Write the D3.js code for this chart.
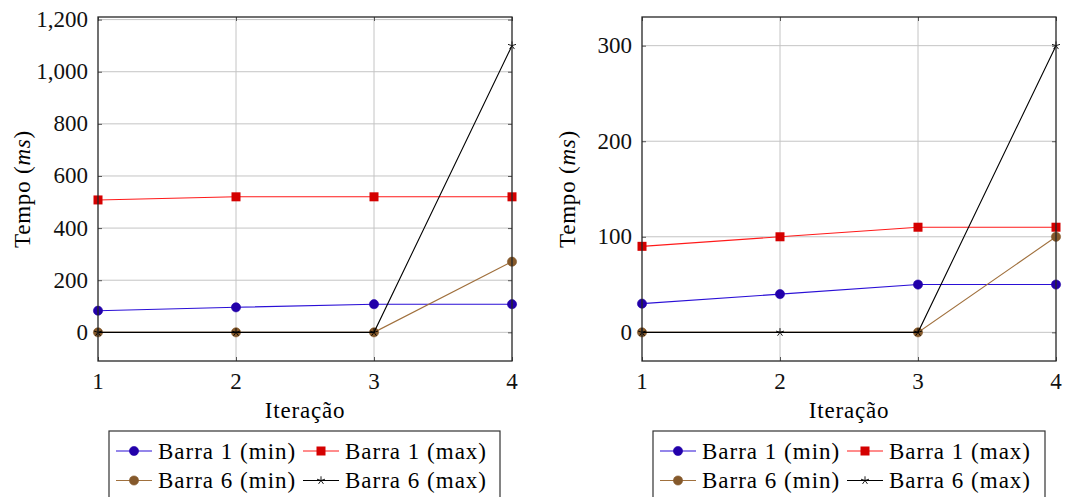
<!DOCTYPE html>
<html>
<head>
    <script src="https://d3js.org/d3.v7.min.js"></script>
    <style>
        body { margin: 0; background: white; }
        svg text { font-family: "Liberation Serif", serif !important; }
        .grid line { stroke: #c4c4c4; stroke-width: 1px; }
        .frame { fill: none; stroke: #262626; stroke-width: 1.3px; }
    </style>
</head>
<body>
    <svg width="1066" height="497"></svg>
    <script>
        // Iterations on x
        const iteracoes = [1, 2, 3, 4];

        // Left chart (ms)
        const esqBarra1Min = [83, 96, 108, 108];
        const esqBarra1Max = [508, 520, 520, 520];
        const esqBarra6Min = [0, 0, 0, 271];
        const esqBarra6Max = [0, 0, 0, 1100];
        const esqTicks = [0, 200, 400, 600, 800, 1000, 1200];

        // Right chart (ms), no brown point at iteration 2
        const dirBarra1Min = [30, 40, 50, 50];
        const dirBarra1Max = [90, 100, 110, 110];
        const dirBarra6Min = [0, null, 0, 100];
        const dirBarra6Max = [0, 0, 0, 300];
        const dirTicks = [0, 100, 200, 300];

        const nomes = ["Barra 1 (min)", "Barra 1 (max)", "Barra 6 (min)", "Barra 6 (max)"];

        // line colour, mark fill, mark shape
        const estilos = [
            { line: "#2a0fd6", fill: "#2200aa", mark: "circle" },
            { line: "#ff1a1a", fill: "#d40000", mark: "square" },
            { line: "#a0703d", fill: "#85592b", mark: "circle" },
            { line: "#000000", fill: "#000000", mark: "star" }
        ];

        const FS = 23;
        const FONT = "Liberation Serif";
        const svg = d3.select("svg");

        function drawMark(g, shape, st, x, y) {
            if (shape === "circle") {
                g.append("circle").attr("cx", x).attr("cy", y).attr("r", 4.6)
                    .attr("fill", st.fill).attr("stroke", st.fill).attr("stroke-width", 0.6);
            } else if (shape === "square") {
                g.append("rect").attr("x", x - 4.5).attr("y", y - 4.5)
                    .attr("width", 9).attr("height", 9).attr("fill", st.fill);
            } else {
                // pgfplots style asterisk
                const r = 4.2;
                for (let k = 0; k < 5; k++) {
                    const a = -Math.PI / 2 + k * 2 * Math.PI / 5;
                    g.append("line").attr("x1", x).attr("y1", y)
                        .attr("x2", x + r * Math.cos(a)).attr("y2", y + r * Math.sin(a))
                        .attr("stroke", "#000").attr("stroke-width", 0.9);
                }
            }
        }

        function painel(box, series, ticks, labelX, legendBox) {
            const all = series.flat().filter(v => v !== null);
            const lo = d3.min(all), hi = d3.max(all);
            const pad = (hi - lo) * 0.1;

            const x = d3.scaleLinear().domain([1, 4]).range([box.x0, box.x1]);
            const y = d3.scaleLinear().domain([lo - pad, hi + pad]).range([box.y1, box.y0]);

            const g = svg.append("g");

            // grid
            const grid = g.append("g").attr("class", "grid");
            grid.selectAll(".gy").data(ticks).enter().append("line")
                .attr("x1", box.x0).attr("x2", box.x1)
                .attr("y1", d => y(d)).attr("y2", d => y(d));
            grid.selectAll(".gx").data(iteracoes.slice(1, -1)).enter().append("line")
                .attr("x1", d => x(d)).attr("x2", d => x(d))
                .attr("y1", box.y0).attr("y2", box.y1);

            // axes with inward ticks on all sides
            const tk = 4;
            const axL = d3.axisRight(y).tickValues(ticks).tickSize(tk).tickFormat("");
            const axR = d3.axisLeft(y).tickValues(ticks).tickSize(tk).tickFormat("");
            const axB = d3.axisTop(x).tickValues(iteracoes).tickSize(tk).tickFormat("");
            const axT = d3.axisBottom(x).tickValues(iteracoes).tickSize(tk).tickFormat("");
            [[axL, `translate(${box.x0},0)`], [axR, `translate(${box.x1},0)`],
             [axB, `translate(0,${box.y1})`], [axT, `translate(0,${box.y0})`]].forEach(([ax, tr]) => {
                const a = g.append("g").attr("transform", tr).call(ax);
                a.select(".domain").remove();
                a.selectAll("line").attr("stroke", "#555").attr("stroke-width", 1);
            });

            // tick labels
            const fmt = d3.format(",");
            g.selectAll(".yl").data(ticks).enter().append("text")
                .attr("font-family", FONT).attr("font-size", FS).attr("fill", "#111")
                .attr("x", box.x0 - 10).attr("y", d => y(d))
                .attr("text-anchor", "end").attr("dominant-baseline", "central")
                .text(d => fmt(d));
            g.selectAll(".xl").data(iteracoes).enter().append("text")
                .attr("font-family", FONT).attr("font-size", FS).attr("fill", "#111")
                .attr("x", d => x(d)).attr("y", box.y1 + 20)
                .attr("text-anchor", "middle").attr("dominant-baseline", "central")
                .text(d => d);

            // axis titles
            const cy = (box.y0 + box.y1) / 2;
            const yt = g.append("text")
                .attr("transform", `translate(${labelX},${cy}) rotate(-90)`)
                .attr("text-anchor", "middle").attr("dominant-baseline", "central")
                .attr("font-family", FONT).attr("font-size", FS).attr("letter-spacing", 0.8);
            yt.append("tspan").text("Tempo (");
            yt.append("tspan").attr("font-style", "italic").text("ms");
            yt.append("tspan").text(")");

            g.append("text")
                .attr("x", (box.x0 + box.x1) / 2).attr("y", box.y1 + 49)
                .attr("text-anchor", "middle").attr("dominant-baseline", "central")
                .attr("font-family", FONT).attr("font-size", FS).attr("letter-spacing", 0.8)
                .text("Iteração");

            // series
            const line = d3.line().x(d => x(d.x)).y(d => y(d.y));
            series.forEach((vals, i) => {
                const st = estilos[i];
                const pts = vals.map((v, j) => ({ x: iteracoes[j], y: v })).filter(d => d.y !== null);
                g.append("path").datum(pts).attr("d", line)
                    .attr("fill", "none").attr("stroke", st.line).attr("stroke-width", 1.1);
                const mg = g.append("g");
                pts.forEach(p => drawMark(mg, st.mark, st, x(p.x), y(p.y)));
            });

            // frame
            g.append("rect").attr("class", "frame")
                .attr("x", box.x0).attr("y", box.y0)
                .attr("width", box.x1 - box.x0).attr("height", box.y1 - box.y0);

            // legend
            const lg = g.append("g");
            lg.append("rect").attr("x", legendBox.x).attr("y", legendBox.y)
                .attr("width", legendBox.w).attr("height", 80)
                .attr("fill", "white").attr("stroke", "#333").attr("stroke-width", 1.2);
            nomes.forEach((n, i) => {
                const col = i % 2, row = Math.floor(i / 2);
                const lx = legendBox.x + 7 + col * legendBox.col;
                const ly = legendBox.y + 20 + row * 29.5;
                const st = estilos[i];
                lg.append("line").attr("x1", lx).attr("x2", lx + 36).attr("y1", ly).attr("y2", ly)
                    .attr("stroke", st.line).attr("stroke-width", 1.1);
                drawMark(lg, st.mark, st, lx + 18, ly);
                lg.append("text").attr("x", lx + 42).attr("y", ly)
                    .attr("dominant-baseline", "central")
                    .attr("font-family", FONT).attr("font-size", FS)
                    .attr("letter-spacing", 1).text(n);
            });
        }

        painel({ x0: 98, x1: 512, y0: 17, y1: 361 },
            [esqBarra1Min, esqBarra1Max, esqBarra6Min, esqBarra6Max], esqTicks, 22,
            { x: 109, y: 431, w: 391, col: 187 });

        painel({ x0: 642, x1: 1056, y0: 17, y1: 361 },
            [dirBarra1Min, dirBarra1Max, dirBarra6Min, dirBarra6Max], dirTicks, 567,
            { x: 653, y: 431, w: 392, col: 187 });
    </script>
</body>
</html>
